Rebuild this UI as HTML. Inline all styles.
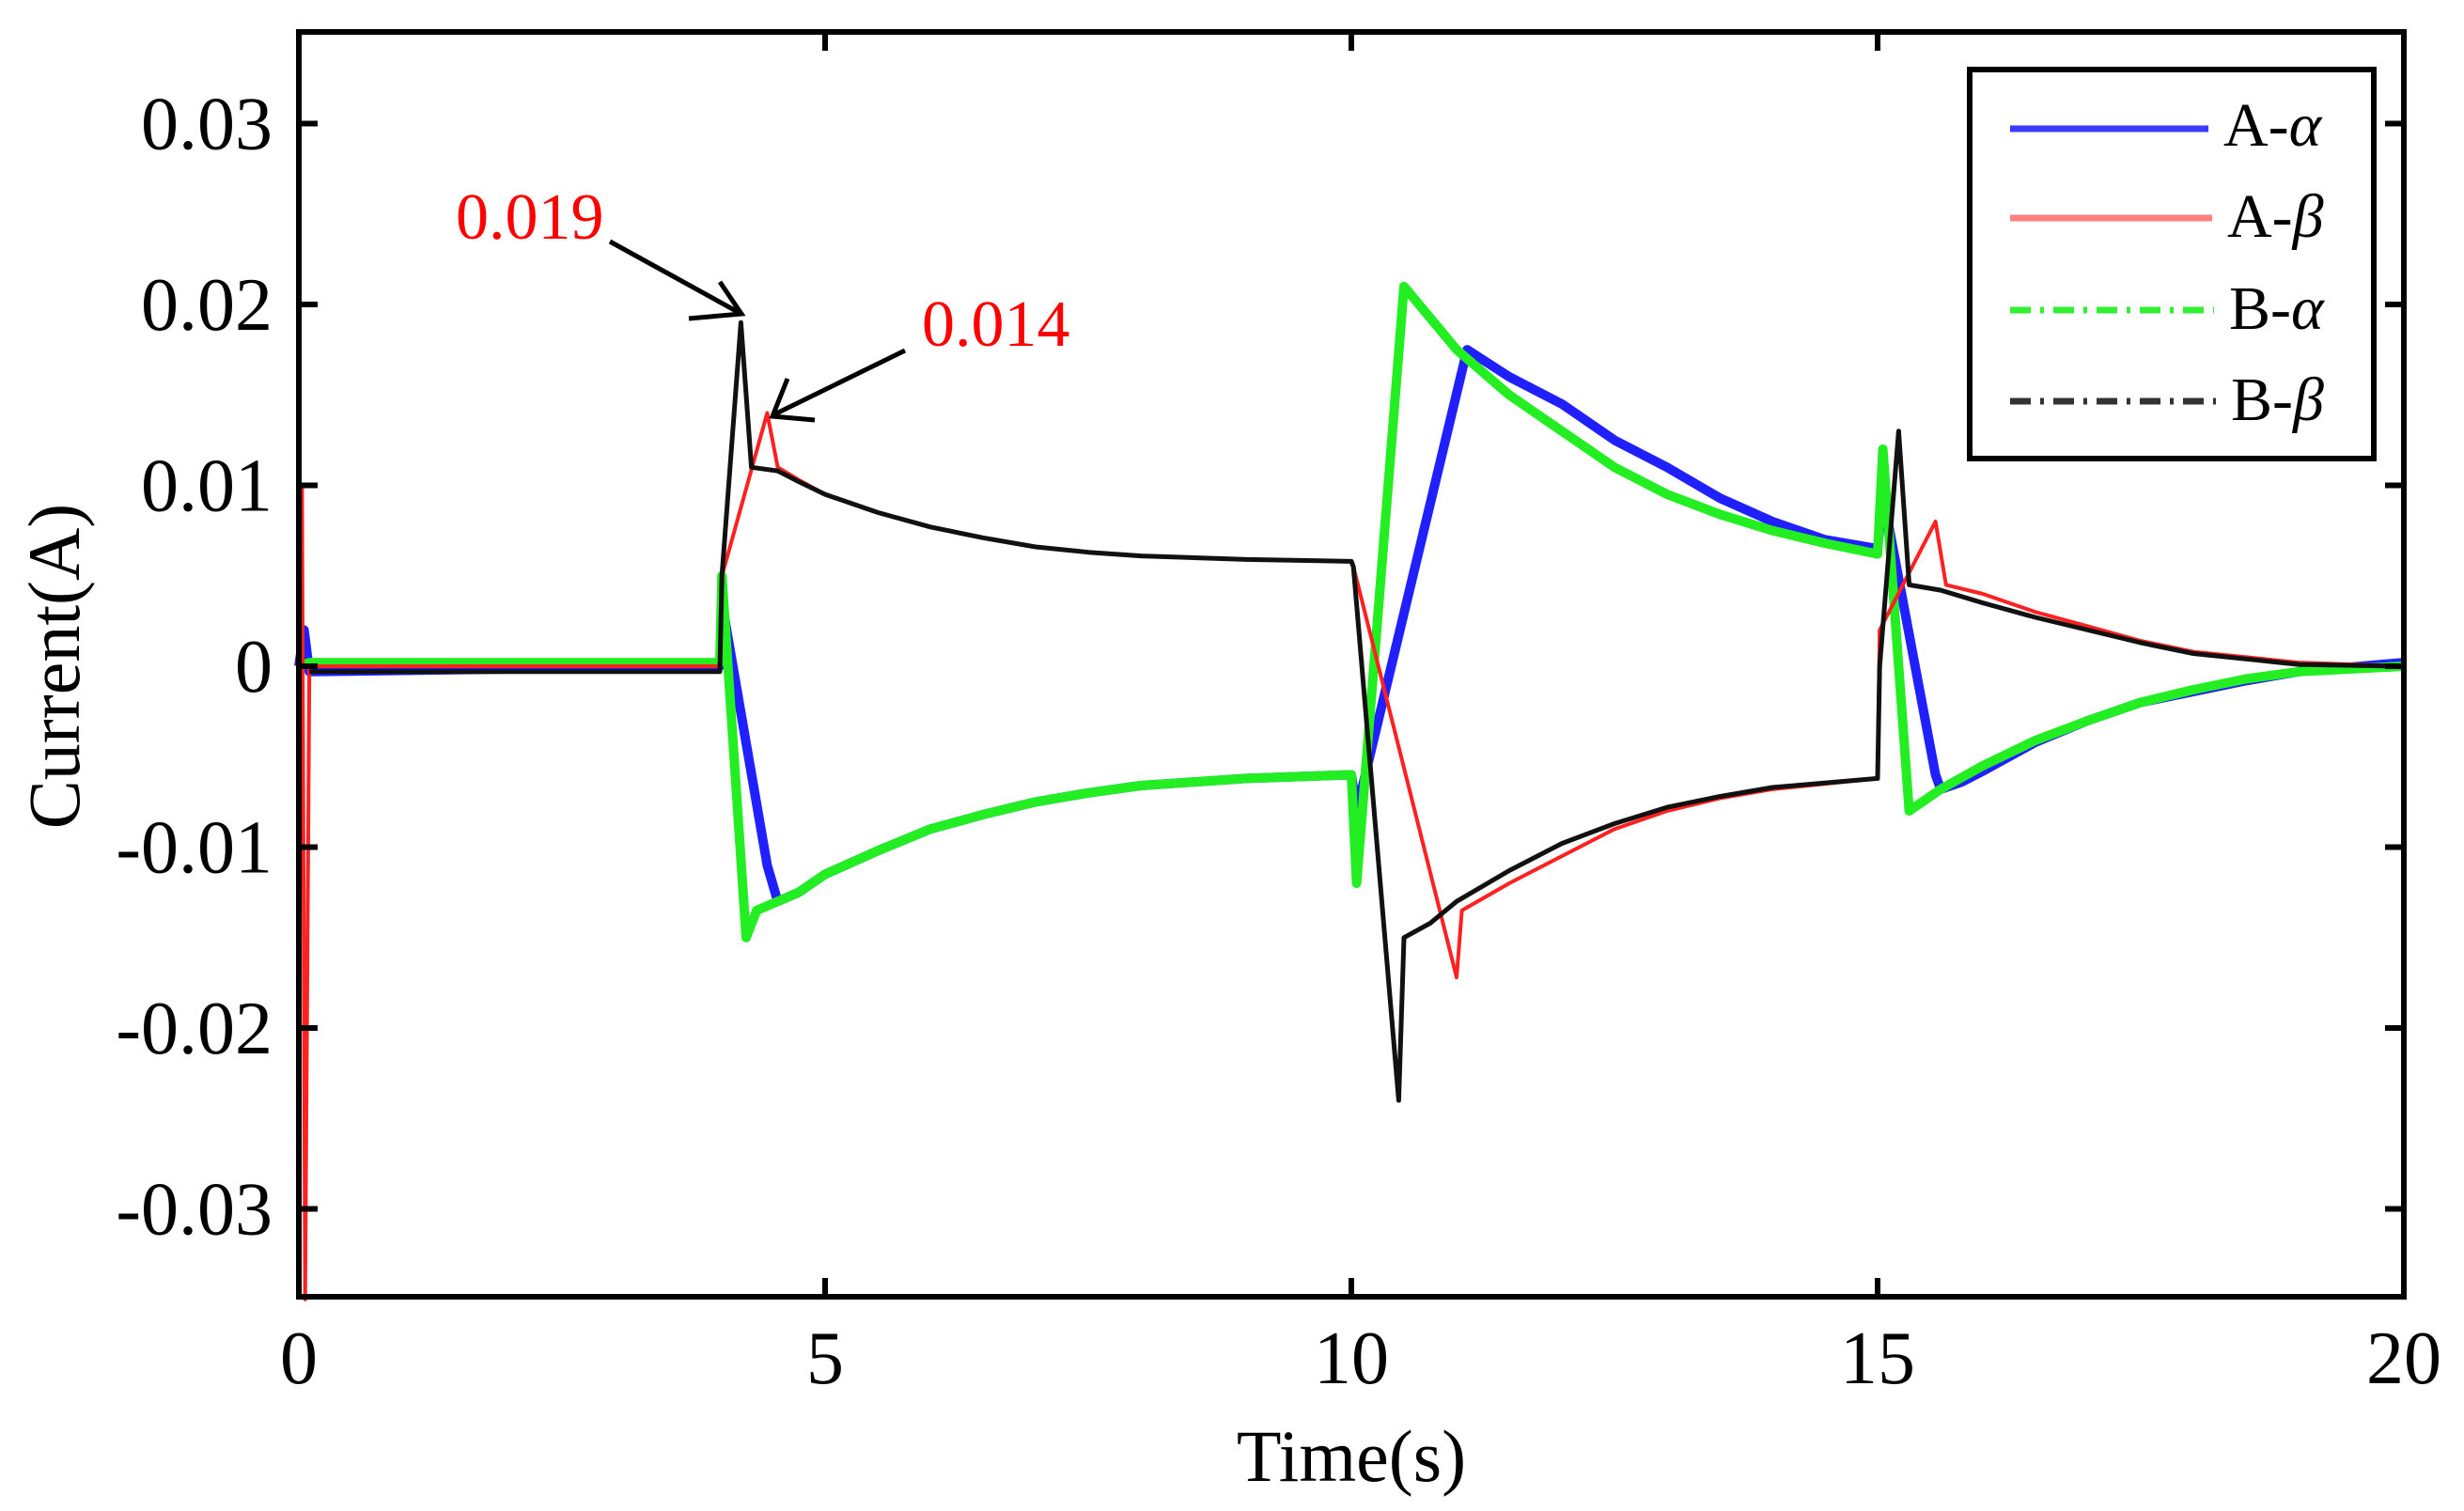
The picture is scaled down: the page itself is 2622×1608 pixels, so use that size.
<!DOCTYPE html>
<html><head><meta charset="utf-8"><style>
html,body{margin:0;padding:0;background:#fff;}
svg{display:block;font-family:"Liberation Serif",serif;}
</style></head><body>
<svg id="chart" width="2622" height="1608" viewBox="0 0 2622 1608">
<g id="series"></g>
<g id="axes"></g>
<text x="485" y="254" font-size="70" fill="#ff0000">0.019</text>
<line x1="649" y1="257" x2="787" y2="333" stroke="#000" stroke-width="5"/>
<polyline points="733,339 789,334 766,300" fill="none" stroke="#000" stroke-width="5"/>
<text x="981" y="368" font-size="70" fill="#ff0000">0.014</text>
<line x1="963" y1="373" x2="822" y2="442" stroke="#000" stroke-width="5"/>
<polyline points="838,403 822,443 867,447" fill="none" stroke="#000" stroke-width="5"/>
<g>
<rect x="2096" y="74" width="430" height="414" fill="#fff" stroke="#000" stroke-width="6"/>
<g>
<line x1="2139" y1="137" x2="2350" y2="137" stroke="#3a3aff" stroke-width="7"/>
<text x="2366" y="155" font-size="66">A-<tspan font-style="italic">α</tspan></text></g>
<g>
<line x1="2139" y1="232" x2="2354" y2="232" stroke="#ff8080" stroke-width="7"/>
<text x="2370" y="252" font-size="66">A-<tspan font-style="italic">β</tspan></text></g>
<g>
<line x1="2139" y1="330" x2="2356" y2="330" stroke="#33ee33" stroke-width="7" stroke-dasharray="22,10,4,10"/>
<text x="2372" y="350" font-size="66">B-<tspan font-style="italic">α</tspan></text></g>
<g>
<line x1="2139" y1="427" x2="2358" y2="427" stroke="#333" stroke-width="7" stroke-dasharray="22,10,4,10"/>
<text x="2374" y="447" font-size="66">B-<tspan font-style="italic">β</tspan></text></g>
</g>
<text x="1438" y="1576" font-size="78" text-anchor="middle">Time(s)</text>
<text transform="translate(84,709) rotate(-90)" font-size="78" text-anchor="middle">Current(A)</text>
</svg>
<script>
const xTicks=[0,5,10,15,20];
const yTicks=[0.03,0.02,0.01,0,-0.01,-0.02,-0.03];
const yTickLabels=["0.03","0.02","0.01","0","-0.01","-0.02","-0.03"];
const tA_alpha=[0,0.05,0.1,4.0,4.05,4.45,4.55,4.75,5,5.5,6,6.5,7,7.5,8,9,10,10.05,11.1,11.5,12,12.5,13,13.5,14,14.5,15,15.05,15.55,15.6,15.8,16,16.5,17,17.5,18,18.5,19,20];
const vA_alpha=[0,0.002,-0.0003,0,0.0025,-0.011,-0.013,-0.0125,-0.0115,-0.0102,-0.009,-0.0082,-0.0075,-0.007,-0.0066,-0.0062,-0.006,-0.008,0.0175,0.016,0.0145,0.0125,0.011,0.0093,0.008,0.007,0.0065,0.0095,-0.006,-0.0068,-0.0064,-0.0058,-0.0042,-0.003,-0.002,-0.0014,-0.0008,-0.0003,0.0002];
const tA_beta=[0,0.03,0.06,0.1,4.0,4.02,4.45,4.55,4.75,5,5.5,6,6.5,7,7.5,8,9,10,10.02,11.0,11.05,11.5,12,12.5,13,13.5,14,15,15.02,15.55,15.65,16,16.5,17,17.5,18,19,20];
const vA_beta=[0,0.01,-0.035,0,0,0.005,0.014,0.011,0.0103,0.0095,0.0085,0.0077,0.0071,0.0066,0.0063,0.0061,0.0059,0.0058,0.0055,-0.0172,-0.0135,-0.012,-0.0105,-0.009,-0.008,-0.0073,-0.0068,-0.0062,0.002,0.008,0.0045,0.004,0.003,0.0022,0.0014,0.0008,0.0002,0];
const tB_alpha=[0,0.1,4.0,4.02,4.25,4.35,4.75,5,5.5,6,6.5,7,7.5,8,9,10,10.05,10.5,11,11.5,12,12.5,13,13.5,14,14.5,15,15.05,15.3,15.6,16,16.5,17,17.5,18,18.5,19,20];
const vB_alpha=[0,0.0002,0.0002,0.005,-0.015,-0.0135,-0.0125,-0.0115,-0.0102,-0.009,-0.0082,-0.0075,-0.007,-0.0066,-0.0062,-0.006,-0.012,0.021,0.0175,0.015,0.013,0.011,0.0095,0.0084,0.0075,0.0068,0.0062,0.012,-0.008,-0.0068,-0.0055,-0.0041,-0.003,-0.002,-0.0013,-0.0007,-0.0003,0];
const tB_beta=[0.1,4.0,4.02,4.2,4.3,4.55,4.75,5,5.5,6,6.5,7,7.5,8,9,10,10.02,10.45,10.5,10.75,11,11.5,12,12.5,13,13.5,14,15,15.02,15.2,15.3,15.6,16,16.5,17,17.5,18,19,20];
const vB_beta=[-0.0003,-0.0003,0.005,0.019,0.011,0.0108,0.0102,0.0095,0.0085,0.0077,0.0071,0.0066,0.0063,0.0061,0.0059,0.0058,0.0055,-0.024,-0.015,-0.0142,-0.013,-0.0113,-0.0098,-0.0087,-0.0078,-0.0072,-0.0067,-0.0062,0.0,0.013,0.0045,0.0042,0.0035,0.0027,0.002,0.0013,0.0007,0.0001,0];
const L=318,R=2558,T=34,B=1380;
function xs(t){return L+(t-0)/(20-0)*(R-L);}
function ys(v){return 709-v*19250;}
const NS="http://www.w3.org/2000/svg";
const sg=document.getElementById('series');
function addSeries(ts,vs,color,w,dash,name){
  const p=document.createElementNS(NS,'polyline');
  p.setAttribute('points',ts.map((t,i)=>xs(t).toFixed(1)+','+ys(vs[i]).toFixed(1)).join(' '));
  p.setAttribute('fill','none');p.setAttribute('stroke',color);p.setAttribute('stroke-width',w);
  p.setAttribute('stroke-linejoin','round');
  if(dash)p.setAttribute('stroke-dasharray',dash);
  
  
  sg.appendChild(p);
}
addSeries(tA_alpha,vA_alpha,'#2020ff',10,null,'series-a-alpha');
addSeries(tB_alpha,vB_alpha,'#22ee22',10,null,'series-b-alpha');
addSeries(tA_beta,vA_beta,'#ff2020',4,null,'series-a-beta');
addSeries(tB_beta,vB_beta,'#111',5,null,'series-b-beta');
const ag=document.getElementById('axes');
const box=document.createElementNS(NS,'rect');
box.setAttribute('x',L);box.setAttribute('y',T);box.setAttribute('width',R-L);box.setAttribute('height',B-T);
box.setAttribute('fill','none');box.setAttribute('stroke','#000');box.setAttribute('stroke-width',6);


ag.appendChild(box);
function ln(x1,y1,x2,y2,name){const l=document.createElementNS(NS,'line');
 l.setAttribute('x1',x1);l.setAttribute('y1',y1);l.setAttribute('x2',x2);l.setAttribute('y2',y2);
 l.setAttribute('stroke','#000');l.setAttribute('stroke-width',6);
 
 
 ag.appendChild(l);}
function tx(x,y,s,anchor,name){const e=document.createElementNS(NS,'text');
 e.setAttribute('x',x);e.setAttribute('y',y);e.setAttribute('font-size',80);e.setAttribute('text-anchor',anchor);e.textContent=s;
 
 
 ag.appendChild(e);}
xTicks.forEach(t=>{const x=xs(t);ln(x,B,x,B-20,'x-tick');ln(x,T,x,T+20,'x-tick-top');tx(x,1472,String(t),'middle','x-tick-label');});
yTicks.forEach((v,i)=>{const y=ys(v);ln(L,y,L+20,y,'y-tick');ln(R,y,R-20,y,'y-tick-right');tx(290,y+27,yTickLabels[i],'end','y-tick-label');});
</script>
</body></html>
